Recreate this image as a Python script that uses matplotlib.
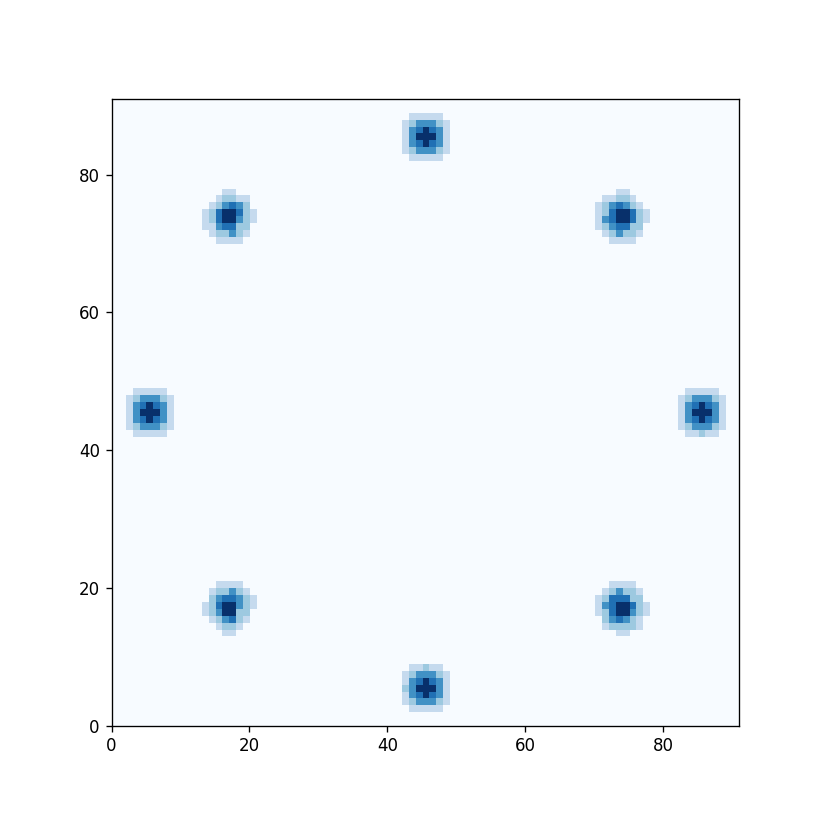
import numpy as np
import matplotlib
matplotlib.use("Agg")
import matplotlib.pyplot as plt

# 2D histogram of an 8-mode ring, counts (levels 0..8)
grid_size = 91

# lower-left cell of each patch
blob_x0 = [42, 2, 82, 42, 13, 70, 13, 70]
blob_y0 = [82, 42, 42, 2, 70, 70, 13, 13]

# patch rows are listed top to bottom
top_blob = [
    [0, 2, 2, 2, 2, 2, 0],
    [2, 3, 5, 5, 5, 3, 2],
    [2, 5, 6, 8, 6, 5, 2],
    [2, 5, 8, 8, 8, 5, 2],
    [2, 5, 6, 8, 6, 5, 2],
    [2, 3, 5, 5, 5, 3, 2],
    [0, 2, 2, 2, 2, 2, 0],
]
left_blob = [
    [0, 2, 2, 2, 2, 2, 0],
    [2, 3, 5, 5, 5, 3, 2],
    [2, 5, 6, 8, 6, 5, 2],
    [2, 5, 8, 8, 8, 5, 2],
    [2, 5, 6, 8, 6, 5, 2],
    [2, 3, 5, 5, 5, 3, 2],
    [0, 2, 2, 2, 2, 2, 0],
]
right_blob = [
    [0, 2, 2, 2, 2, 2, 0],
    [2, 3, 5, 5, 5, 3, 2],
    [2, 5, 6, 8, 6, 5, 2],
    [2, 5, 8, 8, 8, 5, 2],
    [2, 5, 6, 8, 6, 5, 2],
    [2, 3, 5, 5, 5, 3, 2],
    [0, 2, 2, 3, 2, 2, 0],
]
bottom_blob = [
    [0, 2, 2, 3, 2, 2, 0],
    [2, 3, 5, 5, 5, 3, 2],
    [2, 5, 6, 8, 6, 5, 2],
    [3, 5, 8, 8, 8, 5, 2],
    [2, 5, 6, 8, 6, 5, 2],
    [2, 3, 5, 5, 5, 3, 2],
    [0, 2, 2, 2, 2, 2, 0],
]
upper_left_blob = [
    [0, 0, 0, 2, 2, 0, 0, 0],
    [0, 0, 2, 3, 3, 2, 2, 0],
    [0, 2, 3, 5, 6, 5, 3, 0],
    [2, 3, 6, 8, 8, 6, 3, 2],
    [2, 3, 6, 8, 8, 5, 3, 2],
    [2, 2, 5, 6, 6, 3, 3, 0],
    [0, 2, 3, 3, 5, 3, 2, 0],
    [0, 0, 2, 2, 2, 2, 0, 0],
]
upper_right_blob = [
    [0, 0, 0, 2, 2, 0, 0, 0],
    [0, 2, 2, 3, 3, 2, 0, 0],
    [2, 3, 5, 6, 5, 3, 2, 0],
    [2, 3, 6, 8, 8, 6, 3, 2],
    [2, 5, 6, 8, 8, 6, 3, 2],
    [2, 3, 5, 6, 6, 3, 3, 0],
    [0, 2, 3, 5, 3, 3, 2, 0],
    [0, 0, 2, 2, 2, 2, 0, 0],
]
lower_left_blob = [
    [0, 0, 2, 2, 2, 2, 0, 0],
    [0, 2, 3, 3, 5, 3, 2, 0],
    [0, 3, 5, 6, 6, 5, 3, 2],
    [2, 3, 6, 8, 8, 5, 3, 2],
    [2, 3, 5, 8, 8, 3, 3, 0],
    [0, 2, 3, 5, 6, 3, 2, 0],
    [0, 0, 2, 3, 3, 2, 0, 0],
    [0, 0, 0, 2, 2, 0, 0, 0],
]
lower_right_blob = [
    [0, 0, 2, 2, 2, 2, 0, 0],
    [0, 2, 3, 5, 3, 3, 2, 0],
    [2, 3, 6, 6, 6, 3, 3, 0],
    [2, 5, 6, 8, 8, 6, 3, 2],
    [2, 3, 6, 8, 8, 5, 3, 2],
    [0, 3, 5, 6, 5, 3, 2, 0],
    [0, 2, 3, 3, 3, 3, 2, 0],
    [0, 0, 0, 2, 2, 0, 0, 0],
]

blobs = [top_blob, left_blob, right_blob, bottom_blob,
         upper_left_blob, upper_right_blob, lower_left_blob, lower_right_blob]

counts = np.zeros((grid_size, grid_size))
for x0, y0, patch in zip(blob_x0, blob_y0, blobs):
    arr = np.flipud(np.array(patch, dtype=float))
    h, w = arr.shape
    counts[y0:y0 + h, x0:x0 + w] = arr

dpi = 120
fig = plt.figure(figsize=(830 / dpi, 830 / dpi), dpi=dpi)
ax = fig.add_axes([111.5 / 830, 104.3 / 830, 627.5 / 830, 626.7 / 830])
ax.imshow(counts, cmap="Blues", origin="lower", extent=(0, grid_size, 0, grid_size),
          vmin=0, vmax=8, interpolation="nearest", aspect="auto")
ax.set_xlim(0, grid_size)
ax.set_ylim(0, grid_size)
ax.set_xticks([0, 20, 40, 60, 80])
ax.set_yticks([0, 20, 40, 60, 80])

fig.savefig("out.png", dpi=dpi)
plt.close(fig)
